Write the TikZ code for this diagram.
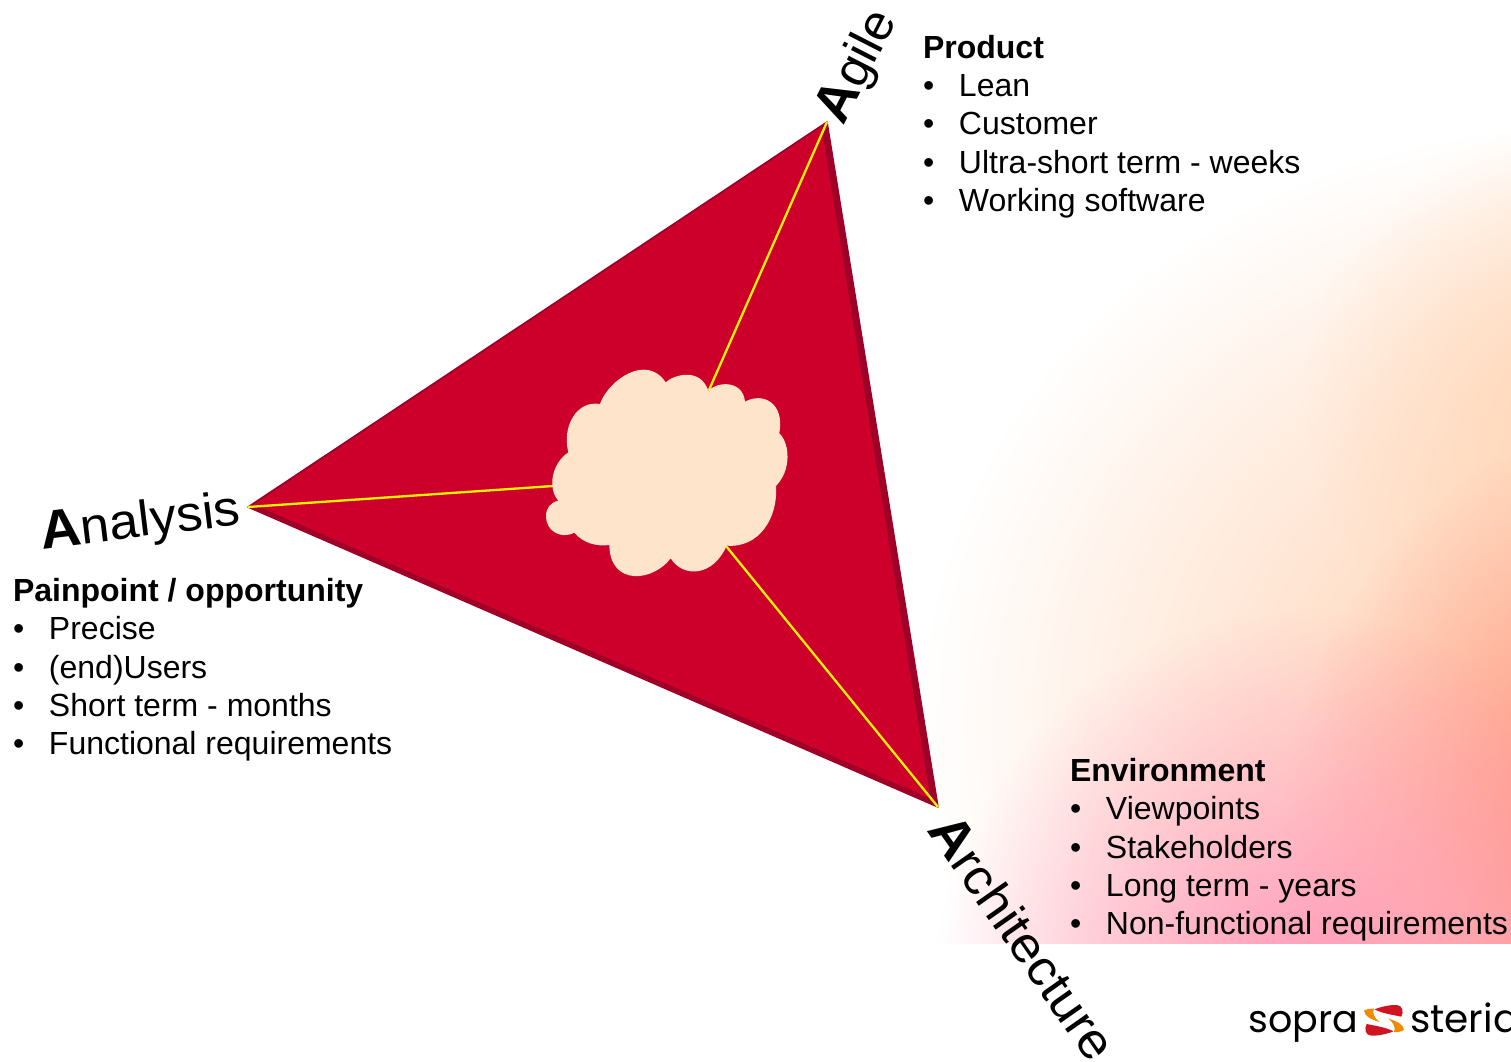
\documentclass[tikz,border=0pt]{standalone}
\usepackage{fontspec}
\usepackage{graphicx}
\usetikzlibrary{fadings}
\setmainfont{Liberation Sans}
\newfontfamily\logofont{Poppins}
\tikzfading[name=softblob, inner color=transparent!0, outer color=transparent!100]
\definecolor{triRed}{HTML}{CC002B}
\definecolor{triDark}{HTML}{9E0028}
\definecolor{cloudFill}{HTML}{FEE4CB}
\definecolor{logoRed}{HTML}{CF1321}
\definecolor{logoOrange}{HTML}{F08A00}
\definecolor{glowPeach}{RGB}{255,205,170}
\definecolor{glowUpper}{RGB}{255,212,178}
\definecolor{glowSalmon}{RGB}{255,140,125}
\definecolor{glowPink}{RGB}{255,150,185}
\newcommand{\bul}[1]{\makebox[36pt][l]{•}#1}
\newcommand{\wlabel}[3]{\scalebox{#1}[1]{\fontsize{54}{54}\selectfont\bfseries #2\fontsize{50}{50}\selectfont\mdseries #3}}
\tikzset{
  listblock/.style={inner sep=0pt,outer sep=0pt,anchor=north west,align=left,font=\fontsize{32}{38.4}\selectfont},
  wordlabel/.style={inner sep=0pt,outer sep=0pt,anchor=base west},
  logotext/.style={inner sep=0pt,anchor=base west,font=\logofont\fontsize{38}{38}\selectfont},
  spoke/.style={draw=yellow,line width=2.3pt},
  softglow/.style={path fading=softblob,fit fading=true}
}
\begin{document}
\begin{tikzpicture}[x=1pt,y=-1pt]
\useasboundingbox (0,0) rectangle (1511,1061);
% background glow
\begin{scope}
\clip (900,100) rectangle (1511,943);
\fill[softglow,fill=glowPeach] (1580,720) ellipse [x radius=660pt,y radius=595pt];
\fill[softglow,fill=glowUpper] (1620,400) ellipse [x radius=320pt,y radius=285pt];
\fill[softglow,fill=glowSalmon] (1620,860) ellipse [x radius=340pt,y radius=430pt];
\fill[softglow,fill=glowPink] (1300,1010) ellipse [x radius=370pt,y radius=400pt];
\end{scope}
% triangle
\coordinate (left) at (248,507);
\coordinate (top) at (827,122);
\coordinate (right) at (938,807);
\fill[triDark,draw=triDark,line width=1.5pt,line join=round] (left) -- (top) -- (right) -- cycle;
\fill[triRed] (254,504.5) -- (821.5,127) -- (930.5,798.5) -- cycle;
% cloud anchors and spokes
\coordinate (cl) at (553,486);
\coordinate (ct) at (709,390);
\coordinate (cr) at (726,546);
\draw[spoke] (left) -- (cl);
\draw[spoke] (top) -- (ct);
\draw[spoke] (right) -- (cr);
\begin{scope}[shift={(530,350)},x=.3333pt,y=-.3333pt]
\fill[cloudFill] (407,97) .. controls (430,75) and (510,50) .. (535,122)
 .. controls (570,90) and (640,95) .. (645,155)
 .. controls (700,125) and (765,160) .. (748,250)
 .. controls (780,280) and (785,360) .. (738,408)
 .. controls (745,500) and (690,595) .. (590,587)
 .. controls (550,680) and (460,685) .. (422,625)
 .. controls (370,695) and (240,710) .. (238,585)
 .. controls (200,590) and (160,580) .. (133,548)
 .. controls (90,570) and (48,540) .. (48,500)
 .. controls (48,475) and (60,458) .. (85,452)
 .. controls (55,420) and (60,345) .. (115,307)
 .. controls (95,230) and (140,150) .. (210,162)
 .. controls (235,90) and (350,10) .. (407,97) -- cycle;
\end{scope}
% corner labels
\node[wordlabel,rotate=63] (agile) at (843,126) {\wlabel{1.02}{A}{gile}};
\node[wordlabel,rotate=7] (analysis) at (42,549) {\wlabel{1.05}{A}{nalysis}};
\node[wordlabel,rotate=-55] (arch) at (926,830) {\wlabel{1.05}{A}{rchitecture}};
% text blocks
\node[listblock] (product) at (923,35) {\textbf{Product}\\\bul{Lean}\\\bul{Customer}\\\bul{Ultra-short term - weeks}\\\bul{Working software}};
\node[listblock] (pain) at (13,578) {\textbf{Painpoint / opportunity}\\\bul{Precise}\\\bul{(end)Users}\\\bul{Short term - months}\\\bul{Functional requirements}};
\node[listblock] (env) at (1070,758) {\textbf{Environment}\\\bul{Viewpoints}\\\bul{Stakeholders}\\\bul{Long term - years}\\\bul{Non-functional requirements}};
% logo
\node[logotext] (sopra) at (1248,1032) {sopra};
\node[logotext,font=\logofont\fontsize{39}{39}\selectfont] (steria) at (1410,1032) {steria};
\begin{scope}[shift={(1200,960)},x=.3333pt,y=-.3333pt]
\foreach \r in {0,180}{
\begin{scope}[rotate around={\r:(552,181)}]
\fill[logoOrange] (492,152) .. controls (500,147) and (512,145) .. (522,146)
 .. controls (516,158) and (522,172) .. (538,186)
 .. controls (514,178) and (494,170) .. (492,152) -- cycle;
\end{scope}}
\foreach \r in {0,180}{
\begin{scope}[rotate around={\r:(552,181)}]
\fill[logoRed] (524,148) .. controls (540,141) and (570,134) .. (590,135)
 .. controls (608,136) and (612,155) .. (604,170)
 .. controls (580,165) and (545,160) .. (524,148) -- cycle;
\end{scope}}
\end{scope}
\end{tikzpicture}
\end{document}
